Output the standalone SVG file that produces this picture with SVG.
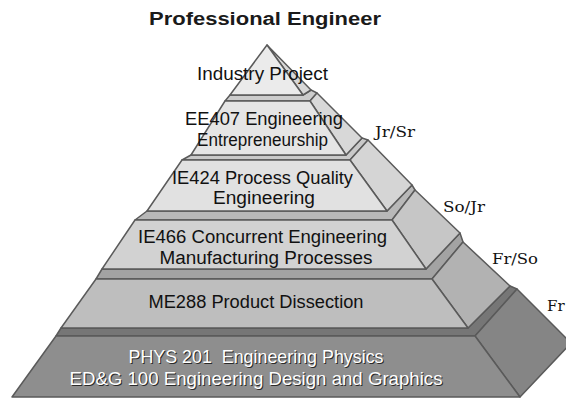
<svg xmlns="http://www.w3.org/2000/svg" width="566" height="399" viewBox="0 0 566 399">
<style>
  .s { stroke: #5a5a5a; stroke-width: 1.5; stroke-linejoin: round; }
  .t { font-family: "Liberation Sans", Arial, sans-serif; font-size: 18px; fill: #111; text-anchor: middle; }
  .w { font-family: "Liberation Sans", Arial, sans-serif; font-size: 19px; fill: #fff; text-anchor: middle; }
  .sh { font-family: "Liberation Sans", Arial, sans-serif; font-size: 19px; fill: #2a2a2a; text-anchor: middle; }
  .lb { font-family: "DejaVu Serif", "Liberation Serif", serif; font-size: 15px; fill: #111; }
  .title { font-family: "Liberation Sans", Arial, sans-serif; font-size: 18px; font-weight: bold; fill: #1a1a1a; text-anchor: middle; }
</style>
<rect width="566" height="399" fill="#fff"/>
<text class="title" x="265" y="25" textLength="232" lengthAdjust="spacingAndGlyphs">Professional Engineer</text>

<g id="tier6">
  <polygon class="s" fill="#767676" points="56,336 475,336 517,289 510,286 468,328 61,328"/>
  <polygon class="s" fill="#858585" points="475,336 517,289 571,343 520,397"/>
  <polygon class="s" fill="#8e8e8e" points="56,336 475,336 520,397 12,397"/>
  <text class="sh" x="257" y="364" xml:space="preserve" textLength="255" lengthAdjust="spacingAndGlyphs">PHYS 201  Engineering Physics</text>
  <text class="w" x="256" y="363" xml:space="preserve" textLength="255" lengthAdjust="spacingAndGlyphs">PHYS 201  Engineering Physics</text>
  <text class="sh" x="257" y="386" textLength="373" lengthAdjust="spacingAndGlyphs">ED&amp;G 100 Engineering Design and Graphics</text>
  <text class="w" x="256" y="385" textLength="373" lengthAdjust="spacingAndGlyphs">ED&amp;G 100 Engineering Design and Graphics</text>
</g>

<g id="tier5">
  <polygon class="s" fill="#a3a3a3" points="96,279 432,279 463,242 460,233 426,269 102,269"/>
  <polygon class="s" fill="#b2b2b2" points="432,279 463,242 510,286 468,328"/>
  <polygon class="s" fill="#bebebe" points="96,279 432,279 468,328 61,328"/>
  <text class="t" x="256" y="308" textLength="215" lengthAdjust="spacingAndGlyphs">ME288 Product Dissection</text>
</g>

<g id="tier4">
  <polygon class="s" fill="#b8b8b8" points="135,220 392,220 415,190 412,185 387,211 147,211"/>
  <polygon class="s" fill="#c6c6c6" points="392,220 415,190 460,233 426,269"/>
  <polygon class="s" fill="#d2d2d2" points="135,220 392,220 426,269 102,269"/>
  <text class="t" x="262.5" y="243" textLength="249" lengthAdjust="spacingAndGlyphs">IE466 Concurrent Engineering</text>
  <text class="t" x="266" y="264" textLength="213" lengthAdjust="spacingAndGlyphs">Manufacturing Processes</text>
</g>

<g id="tier3">
  <polygon class="s" fill="#c9c9c9" points="182,160 350,160 368,140 362,138 346,155 191,155"/>
  <polygon class="s" fill="#d5d5d5" points="350,160 368,140 412,185 387,211"/>
  <polygon class="s" fill="#e1e1e1" points="182,160 350,160 387,211 147,211"/>
  <text class="t" x="262.5" y="184" textLength="181" lengthAdjust="spacingAndGlyphs">IE424 Process Quality</text>
  <text class="t" x="264" y="204" textLength="102" lengthAdjust="spacingAndGlyphs">Engineering</text>
</g>

<g id="tier2">
  <polygon class="s" fill="#cccccc" points="225,101 310,101 317,93 311,90 303,95 230,95"/>
  <polygon class="s" fill="#d8d8d8" points="310,101 317,93 362,138 346,155"/>
  <polygon class="s" fill="#e5e5e5" points="225,101 310,101 346,155 191,155"/>
  <text class="t" x="264" y="125" textLength="158" lengthAdjust="spacingAndGlyphs">EE407 Engineering</text>
  <text class="t" x="262.5" y="146" textLength="131" lengthAdjust="spacingAndGlyphs">Entrepreneurship</text>
</g>

<g id="tier1">
  <polygon class="s" fill="#d8d8d8" points="267,45 311,90 303,95"/>
  <polygon class="s" fill="#ebebeb" points="267,45 303,95 230,95"/>
  <text class="t" x="262.5" y="80" textLength="131" lengthAdjust="spacingAndGlyphs">Industry Project</text>
</g>

<g id="labels">
  <text class="lb" x="375" y="137" textLength="40" lengthAdjust="spacingAndGlyphs">Jr/Sr</text>
  <text class="lb" x="443" y="212" textLength="42" lengthAdjust="spacingAndGlyphs">So/Jr</text>
  <text class="lb" x="492" y="264" textLength="46" lengthAdjust="spacingAndGlyphs">Fr/So</text>
  <text class="lb" x="547" y="311">Fr</text>
</g>
<g id="connectors"/>
</svg>
